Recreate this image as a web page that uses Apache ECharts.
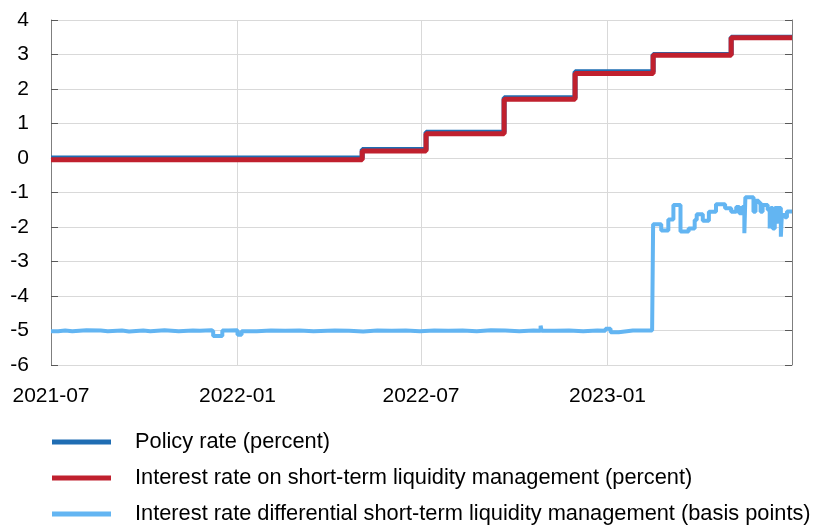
<!DOCTYPE html>
<html lang="en">
<head>
    <meta charset="UTF-8">
    <title>Policy rate and short-term liquidity management</title>
    <script src="https://cdn.jsdelivr.net/npm/echarts@6/dist/echarts.min.js"></script>
</head>
<body style="margin:0;">
    <div id="main" style="width: 820px; height: 525px;"></div>
    <script>
        const seriesNames = [
            'Policy rate (percent)',
            'Interest rate on short-term liquidity management (percent)',
            'Interest rate differential short-term liquidity management (basis points)'
        ];

        // step series: value holds from its date until the next date
        const policyDates = ['2021-07-01', '2022-05-04', '2022-07-06', '2022-09-21', '2022-11-30', '2023-02-15', '2023-05-03', '2023-07-02'];
        const policyValues = [0, 0.25, 0.75, 1.75, 2.5, 3.0, 3.5, 3.5];

        const liquidityDates = ['2021-07-01', '2022-05-04', '2022-07-06', '2022-09-21', '2022-11-30', '2023-02-15', '2023-05-03', '2023-07-02'];
        const liquidityValues = [-0.05, 0.2, 0.7, 1.7, 2.45, 2.98, 3.485, 3.485];

        const diffDates = [
            '2021-07-01', '2021-07-08', '2021-07-15', '2021-07-22', '2021-08-05', '2021-08-19', '2021-08-26',
            '2021-09-09', '2021-09-16', '2021-09-30', '2021-10-07', '2021-10-21', '2021-11-04', '2021-11-18',
            '2021-11-25', '2021-12-06', '2021-12-08', '2021-12-17', '2021-12-23', '2022-01-01', '2022-01-05',
            '2022-01-20', '2022-02-03', '2022-02-17', '2022-03-03', '2022-03-17', '2022-04-07', '2022-04-21',
            '2022-05-05', '2022-05-19', '2022-06-02', '2022-06-16', '2022-06-30', '2022-07-14', '2022-07-28',
            '2022-08-11', '2022-08-25', '2022-09-08', '2022-09-22', '2022-10-06', '2022-10-20', '2022-10-27',
            '2022-10-28', '2022-11-10', '2022-11-24', '2022-12-08', '2022-12-22', '2022-12-30', '2023-01-04',
            '2023-01-12', '2023-01-26', '2023-02-14',
            '2023-02-15', '2023-02-23', '2023-03-02', '2023-03-07', '2023-03-14', '2023-03-22', '2023-03-28',
            '2023-03-30', '2023-04-05', '2023-04-11', '2023-04-18', '2023-04-27', '2023-05-03', '2023-05-08',
            '2023-05-11', '2023-05-14', '2023-05-16', '2023-05-17', '2023-05-25', '2023-05-27', '2023-05-30',
            '2023-06-01', '2023-06-03', '2023-06-08', '2023-06-10', '2023-06-11', '2023-06-13', '2023-06-15',
            '2023-06-17', '2023-06-18', '2023-06-21', '2023-06-22', '2023-06-25', '2023-06-27', '2023-07-02'
        ];
        const diffValues = [
            -5.02, -5.00, -5.02, -4.99, -5.00, -5.02, -5.00,
            -5.03, -5.00, -5.02, -4.99, -5.02, -5.00, -5.01,
            -4.99, -5.02, -5.16, -5.00, -4.99, -5.12, -5.02,
            -5.00, -5.01, -5.00, -5.02, -5.00, -5.01, -5.03,
            -5.00, -5.01, -5.00, -5.02, -5.00, -5.01, -5.00,
            -5.02, -4.99, -5.00, -5.02, -5.00, -5.01, -4.86,
            -5.01, -5.00, -5.02, -5.00, -5.01, -4.95, -5.05,
            -5.00, -5.00, -5.00,
            -1.92, -2.10, -1.78, -1.36, -2.13, -2.04, -1.80,
            -1.63, -1.82, -1.56, -1.34, -1.46, -1.56, -1.42,
            -1.60, -1.42, -2.18, -1.14, -1.56, -1.24, -1.30,
            -1.56, -1.36, -1.50, -2.04, -1.45, -2.04, -1.45,
            -1.90, -1.45, -2.28, -1.65, -1.72, -1.55, -1.55
        ];

        const xLabelDates = ['2021-07-01', '2022-01-01', '2022-07-01', '2023-01-01'];
        const xMin = '2021-07-01';
        const xMax = '2023-07-02';

        const colors = ['#1f6db3', '#c0202e', '#63b5f2'];
        const fontFamily = '"Liberation Sans", Arial, sans-serif';

        function toTime(d) {
            return Date.UTC(+d.slice(0, 4), +d.slice(5, 7) - 1, +d.slice(8, 10));
        }

        function pairs(dates, values) {
            return dates.map((d, i) => [toTime(d), values[i]]);
        }

        function drawChart() {
            const labelTimes = xLabelDates.map(toTime);

            const option = {
                animation: false,
                textStyle: { fontFamily: fontFamily },
                grid: { left: 51, right: 28, top: 20, bottom: 160 },
                legend: {
                    orient: 'vertical',
                    left: 52,
                    top: 431,
                    padding: 0,
                    icon: 'rect',
                    itemWidth: 59,
                    itemHeight: 5,
                    itemGap: 14,
                    data: seriesNames,
                    textStyle: {
                        fontSize: 21.8,
                        lineHeight: 22,
                        color: '#000',
                        fontFamily: fontFamily,
                        padding: [0, 0, 0, 19]
                    }
                },
                xAxis: {
                    type: 'value',
                    min: toTime(xMin),
                    max: toTime(xMax),
                    axisLine: { show: true, lineStyle: { color: '#d9d9d9', width: 1 } },
                    axisTick: { show: false, customValues: labelTimes },
                    splitLine: { show: true, lineStyle: { color: '#d9d9d9', width: 1 } },
                    axisLabel: {
                        customValues: labelTimes,
                        margin: 21,
                        fontSize: 21,
                        color: '#000',
                        fontFamily: fontFamily,
                        formatter: value => {
                            const d = new Date(value);
                            return d.getUTCFullYear() + '-' + String(d.getUTCMonth() + 1).padStart(2, '0');
                        }
                    }
                },
                yAxis: [
                    {
                        type: 'value',
                        min: -6,
                        max: 4,
                        interval: 1,
                        position: 'left',
                        axisLine: { show: true, lineStyle: { color: '#7f7f7f' } },
                        axisTick: { show: true, inside: true, length: 7, lineStyle: { color: '#595959' } },
                        splitLine: { show: true, lineStyle: { color: '#d9d9d9', width: 1 } },
                        axisLabel: { margin: 22, fontSize: 21, color: '#000', fontFamily: fontFamily }
                    },
                    {
                        type: 'value',
                        min: -6,
                        max: 4,
                        interval: 1,
                        position: 'right',
                        axisLine: { show: true, lineStyle: { color: '#7f7f7f' } },
                        axisTick: { show: true, inside: true, length: 7, lineStyle: { color: '#595959' } },
                        splitLine: { show: false },
                        axisLabel: { show: false }
                    }
                ],
                series: [
                    {
                        name: seriesNames[2],
                        type: 'line',
                        step: 'end',
                        showSymbol: false,
                        lineStyle: { color: colors[2], width: 4 },
                        itemStyle: { color: colors[2] },
                        data: pairs(diffDates, diffValues)
                    },
                    {
                        name: seriesNames[0],
                        type: 'line',
                        step: 'end',
                        showSymbol: false,
                        lineStyle: { color: colors[0], width: 5 },
                        itemStyle: { color: colors[0] },
                        data: pairs(policyDates, policyValues)
                    },
                    {
                        name: seriesNames[1],
                        type: 'line',
                        step: 'end',
                        showSymbol: false,
                        lineStyle: { color: colors[1], width: 5 },
                        itemStyle: { color: colors[1] },
                        data: pairs(liquidityDates, liquidityValues)
                    }
                ]
            };

            const myChart = echarts.init(document.getElementById('main'));
            myChart.setOption(option);
        }

        drawChart();
    </script>
</body>
</html>
